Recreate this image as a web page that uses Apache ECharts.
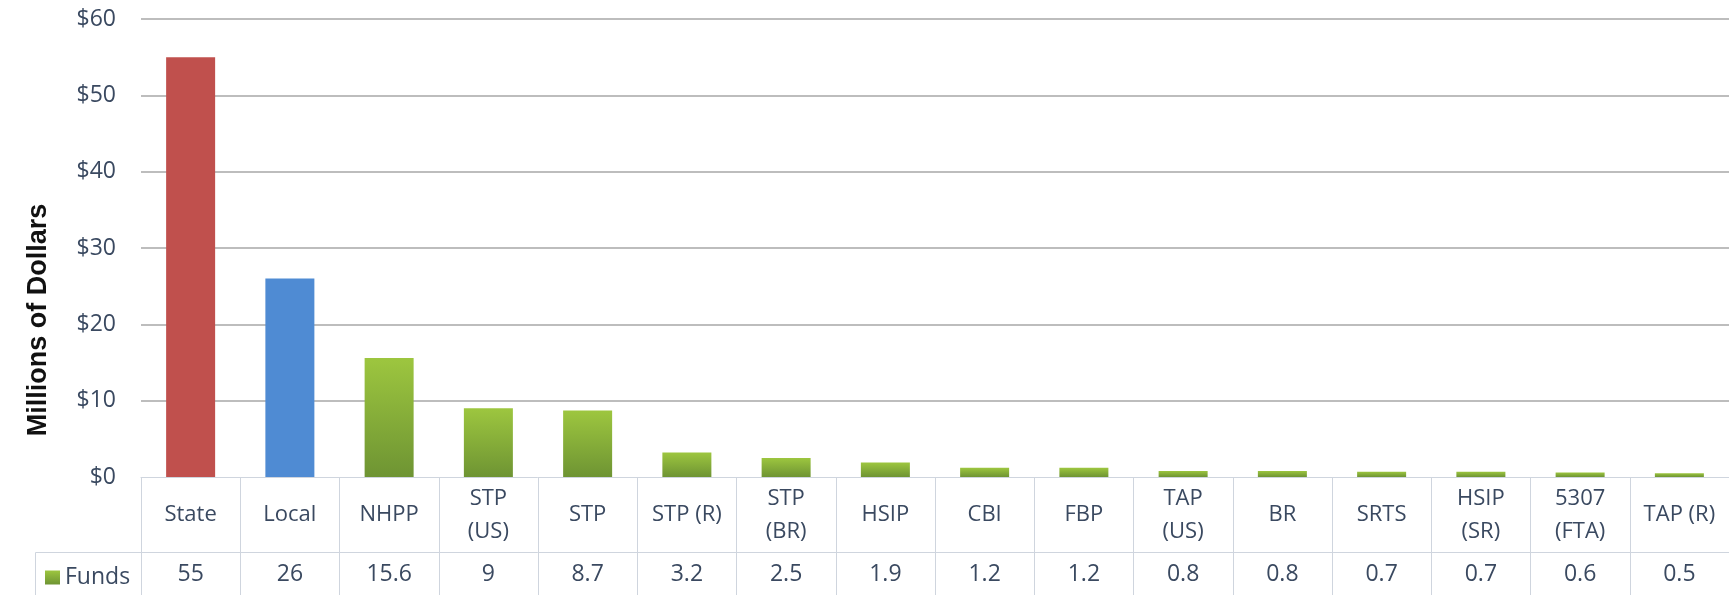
<!DOCTYPE html>
<html>
<head>
<meta charset="utf-8">
<script src="https://cdn.jsdelivr.net/npm/echarts@6/dist/echarts.min.js"></script>
<style>
  html, body { margin: 0; padding: 0; background: #fff; }
  #bar { width: 1729px; height: 595px; }
</style>
</head>
<body>
<div id="bar"></div>
<script>
// chart data
const categories = ['State', 'Local', 'NHPP', 'STP\n(US)', 'STP', 'STP (R)', 'STP\n(BR)', 'HSIP', 'CBI', 'FBP', 'TAP\n(US)', 'BR', 'SRTS', 'HSIP\n(SR)', '5307\n(FTA)', 'TAP (R)'];
const funds = [55, 26, 15.6, 9, 8.7, 3.2, 2.5, 1.9, 1.2, 1.2, 0.8, 0.8, 0.7, 0.7, 0.6, 0.5];
const seriesName = 'Funds';
const yMin = 0, yMax = 60, yStep = 10;

const textColor = '#3a4960';
const tableLine = '#cfd5de';
const font = 'Open Sans';

const green = new echarts.graphic.LinearGradient(0, 0, 0, 1, [
  { offset: 0, color: '#9dc63f' },
  { offset: 1, color: '#6e9433' }
]);
const special = { 0: '#c0504d', 1: '#4f8bd3' };

const chart = echarts.init(document.getElementById('bar'));
const option = {
  animation: false,
  grid: { left: 141, top: 19, width: 1597, height: 458 },
  legend: {
    data: [seriesName],
    left: 40, top: 561,
    icon: 'rect',
    itemWidth: 15, itemHeight: 14, itemGap: 4,
    textStyle: { color: textColor, fontFamily: font, fontSize: 23 }
  },
  graphic: [
    {
      type: 'text',
      x: 39, y: 320,
      rotation: Math.PI / 2,
      style: {
        text: 'Millions of Dollars',
        font: 'bold 27px "Liberation Sans", Arial',
        fill: '#111',
        align: 'center',
        verticalAlign: 'middle'
      }
    },
    {
      type: 'polyline',
      shape: { points: [[35.5, 595], [35.5, 552.5], [141, 552.5]] },
      style: { stroke: tableLine, lineWidth: 1, fill: null }
    }
  ],
  xAxis: [
    {
      type: 'category',
      data: categories,
      position: 'bottom',
      axisLine: { show: true, lineStyle: { color: tableLine, width: 1 } },
      axisTick: { show: true, alignWithLabel: false, interval: 0, length: 118, lineStyle: { color: tableLine, width: 1 } },
      axisLabel: {
        interval: 0,
        margin: 38,
        verticalAlign: 'middle',
        lineHeight: 33,
        color: textColor,
        fontFamily: font,
        fontSize: 22
      }
    },
    {
      type: 'category',
      data: categories,
      position: 'bottom',
      offset: 75,
      axisLine: { show: true, lineStyle: { color: tableLine, width: 1 } },
      axisTick: { show: false },
      axisLabel: {
        interval: 0,
        margin: 22,
        verticalAlign: 'middle',
        color: textColor,
        fontFamily: font,
        fontSize: 23,
        formatter: function (value, index) {
          return String(funds[index]);
        }
      }
    }
  ],
  yAxis: {
    type: 'value',
    min: yMin, max: yMax, interval: yStep,
    axisLine: { show: false },
    axisTick: { show: false },
    splitLine: { showMinLine: false, lineStyle: { color: '#bdbdbd', width: 2 } },
    axisLabel: {
      margin: 25,
      color: textColor,
      fontFamily: font,
      fontSize: 23,
      formatter: function (v) { return '$' + v; }
    }
  },
  series: [
    {
      name: seriesName,
      type: 'bar',
      xAxisIndex: 0,
      barWidth: 49,
      itemStyle: { color: green },
      data: funds.map(function (v, i) {
        return special[i] ? { value: v, itemStyle: { color: special[i] } } : v;
      })
    }
  ]
};
chart.setOption(option);
window.addEventListener('resize', () => { chart.resize(); });
</script>
</body>
</html>
